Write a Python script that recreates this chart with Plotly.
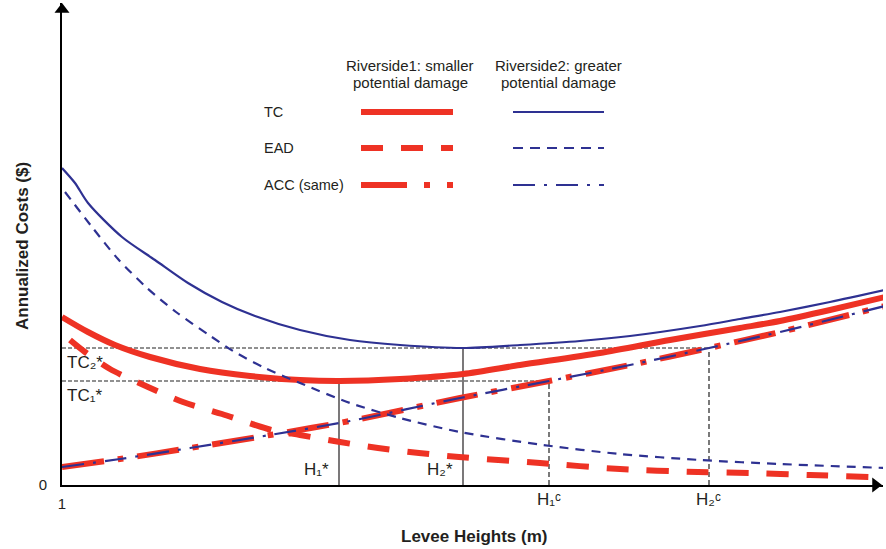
import plotly.graph_objects as go

# ---------------- data (conceptual units) ----------------
# x: levee height (1 at the origin), y: annualized cost (0 at the origin)
tc2_x = [1.00, 1.13, 1.26, 1.60, 1.93, 2.26, 2.60, 2.93, 3.38, 3.88, 4.38, 5.01,
         5.58, 6.18, 6.68, 7.38, 7.78, 8.18, 8.68, 9.23]
tc2_y = [3.17, 3.02, 2.82, 2.48, 2.25, 2.02, 1.83, 1.69, 1.55, 1.45, 1.40, 1.37,
         1.40, 1.44, 1.49, 1.59, 1.66, 1.73, 1.83, 1.95]

tc1_x = [1.00, 1.26, 1.53, 1.88, 2.38, 2.88, 3.38, 3.78, 4.38, 5.01, 5.58, 6.38,
         7.08, 7.78, 8.18, 8.68, 9.23]
tc1_y = [1.68, 1.53, 1.40, 1.28, 1.16, 1.09, 1.05, 1.04, 1.06, 1.11, 1.20, 1.32,
         1.45, 1.57, 1.64, 1.75, 1.88]

ead2_x = [1.03, 1.30, 1.56, 1.84, 2.14, 2.47, 2.71, 3.03, 3.38, 3.88, 4.38, 4.98,
          5.81, 6.58, 7.38, 8.18, 9.23]
ead2_y = [2.93, 2.58, 2.26, 1.98, 1.73, 1.50, 1.34, 1.17, 1.02, 0.82, 0.67, 0.53,
          0.40, 0.31, 0.25, 0.21, 0.17]

ead1_x = [1.08, 1.23, 1.48, 1.86, 2.21, 2.60, 3.10, 3.38, 3.78, 4.16, 4.57, 4.97,
          5.78, 6.58, 7.36, 7.88, 8.48, 9.08]
ead1_y = [1.45, 1.33, 1.16, 0.98, 0.83, 0.71, 0.55, 0.50, 0.43, 0.37, 0.32, 0.28,
          0.22, 0.16, 0.13, 0.12, 0.10, 0.08]

acc_x = [1.00, 1.58, 2.28, 3.08, 3.88, 4.98, 5.87, 6.68, 7.47, 8.18, 9.23]
acc_y = [0.18, 0.26, 0.37, 0.50, 0.64, 0.87, 1.04, 1.20, 1.37, 1.53, 1.79]

h_star = [3.77, 5.01]      # H1*, H2*
h_c = [5.87, 7.47]         # H1c, H2c
tc_star = [1.04, 1.37]     # TC1*, TC2*

h_star_labels = ["H\u2081*", "H\u2082*"]
h_c_labels = ["H\u2081\u1d9c", "H\u2082\u1d9c"]
tc_star_labels = ["TC\u2081*", "TC\u2082*"]

legend_rows = ["TC", "EAD", "ACC (same)"]
legend_cols = ["Riverside1: smaller", "Riverside2: greater"]

# ---------------- style ----------------
RED = "#EE3224"
BLUE = "#2E3192"
INK = "#231F20"
GRID = "#222222"
FONT = "Liberation Sans, Arial, Helvetica, DejaVu Sans, sans-serif"

X0, X1 = 1.0, 9.21
Y0, Y1 = 0.0, 4.82

def px(x):   # data x -> paper x
    return (x - X0) / (X1 - X0)

def py(y):   # data y -> paper y
    return (y - Y0) / (Y1 - Y0)

fig = go.Figure()

# reference lines (optimum and crossing heights)
for i in range(2):
    fig.add_trace(go.Scatter(x=[X0, h_c[i]], y=[tc_star[i], tc_star[i]], mode="lines",
                             line=dict(color=GRID, width=1.2, dash="4px,2px"),
                             hoverinfo="skip", showlegend=False))
    fig.add_trace(go.Scatter(x=[h_c[i], h_c[i]], y=[0, tc_star[i]], mode="lines",
                             line=dict(color=GRID, width=1.2, dash="5px,3px"),
                             hoverinfo="skip", showlegend=False))
    fig.add_trace(go.Scatter(x=[h_star[i], h_star[i]], y=[0, tc_star[i]], mode="lines",
                             line=dict(color=INK, width=1.2),
                             hoverinfo="skip", showlegend=False))

RED_EAD = "22px,18px"
RED_ACC = "42px,14px,6px,14px"
BLUE_EAD = "9px,7px"
BLUE_ACC = "22px,9px,3px,9px"

def curve(x, y, color, width, dash):
    fig.add_trace(go.Scatter(x=x, y=y, mode="lines",
                             line=dict(color=color, width=width, dash=dash,
                                       shape="spline", smoothing=0.8),
                             hoverinfo="skip", showlegend=False))

curve(ead1_x, ead1_y, RED, 6, RED_EAD)
curve(tc1_x, tc1_y, RED, 6, "solid")
curve(acc_x, acc_y, RED, 6, RED_ACC)
curve(ead2_x, ead2_y, BLUE, 2.2, BLUE_EAD)
curve(tc2_x, tc2_y, BLUE, 2.2, "solid")
curve(acc_x, acc_y, BLUE, 2.2, BLUE_ACC)

# arrow heads at the ends of the two axes (placed on the range edges)
fig.add_trace(go.Scatter(x=[X1 - 0.075, X0], y=[Y0, Y1 - 0.065],
                         mode="markers", cliponaxis=False,
                         marker=dict(symbol=["triangle-right", "triangle-up"], size=13,
                                     color="#000000", line=dict(width=0)),
                         hoverinfo="skip", showlegend=False))

annotations = []
lab_font = dict(family=FONT, size=17, color=INK)
for i in range(2):
    annotations.append(dict(x=1.03, y=tc_star[i] - 0.14, text=tc_star_labels[i],
                            showarrow=False, xanchor="left", yanchor="middle",
                            font=lab_font))
    annotations.append(dict(x=h_star[i] - 0.08, y=0.16, text=h_star_labels[i],
                            showarrow=False, xanchor="right", yanchor="middle",
                            font=lab_font))
    annotations.append(dict(x=px(h_c[i]), y=py(-0.15), xref="paper", yref="paper",
                            text=h_c_labels[i], showarrow=False,
                            xanchor="center", yanchor="middle", font=lab_font))

# axis titles
annotations.append(dict(x=px(0.60), y=py(2.39), xref="paper", yref="paper",
                        xanchor="center", yanchor="middle",
                        text="<b>Annualized Costs ($)</b>", textangle=-90,
                        showarrow=False, font=dict(family=FONT, size=17, color=INK)))
annotations.append(dict(x=px(5.12), y=py(-0.51), xref="paper", yref="paper",
                        xanchor="center", yanchor="middle",
                        text="<b>Levee Heights (m)</b>",
                        showarrow=False, font=dict(family=FONT, size=17, color=INK)))

# legend (2 columns x 3 rows)
leg_rows_y = [3.73, 3.37, 3.00]
col_x = [(3.99, 4.91), (5.51, 6.42)]
col_styles = [
    [(RED, 6, "solid"), (RED, 6, RED_EAD), (RED, 6, "46px,17px,6px,17px,6px,17px")],
    [(BLUE, 2.2, "solid"), (BLUE, 2.2, "10px,7px"), (BLUE, 2.2, BLUE_ACC)],
]
head_font = dict(family=FONT, size=15, color=INK)
for c in range(2):
    xc = (col_x[c][0] + col_x[c][1]) / 2 + (0.03 if c == 0 else 0.0)
    annotations.append(dict(x=xc, y=4.20, text=legend_cols[c], showarrow=False,
                            font=head_font))
    annotations.append(dict(x=xc, y=4.03, text="potential damage", showarrow=False,
                            font=head_font))
shapes = []
for r in range(3):
    annotations.append(dict(x=3.00, y=leg_rows_y[r], text=legend_rows[r], showarrow=False,
                            xanchor="left", font=dict(family=FONT, size=14.5, color=INK)))
    for c in range(2):
        color, w, dash = col_styles[c][r]
        shapes.append(dict(type="line", xref="x", yref="y",
                           x0=col_x[c][0], x1=col_x[c][1],
                           y0=leg_rows_y[r], y1=leg_rows_y[r],
                           line=dict(color=color, width=w, dash=dash)))

fig.update_layout(
    width=886, height=549,
    margin=dict(l=62, r=3, t=3, b=64),
    paper_bgcolor="white", plot_bgcolor="white",
    font=dict(family=FONT, color=INK),
    showlegend=False,
    annotations=annotations,
    shapes=shapes,
    xaxis=dict(range=[X0, X1], showgrid=False, zeroline=False,
               showline=True, linecolor="#000000", linewidth=2,
               tickvals=[1], ticktext=["1"], ticks="", ticklabelstandoff=4,
               tickfont=dict(family=FONT, size=15, color=INK), automargin=False,
               fixedrange=True),
    yaxis=dict(range=[Y0, Y1], showgrid=False, zeroline=False,
               showline=True, linecolor="#000000", linewidth=2,
               tickvals=[0], ticktext=["0"], ticks="", ticklabelstandoff=10,
               tickfont=dict(family=FONT, size=15, color=INK), automargin=False,
               fixedrange=True),
)

fig.write_html("out.html", config={"displayModeBar": False},
               post_script="document.body.style.margin='0';")
